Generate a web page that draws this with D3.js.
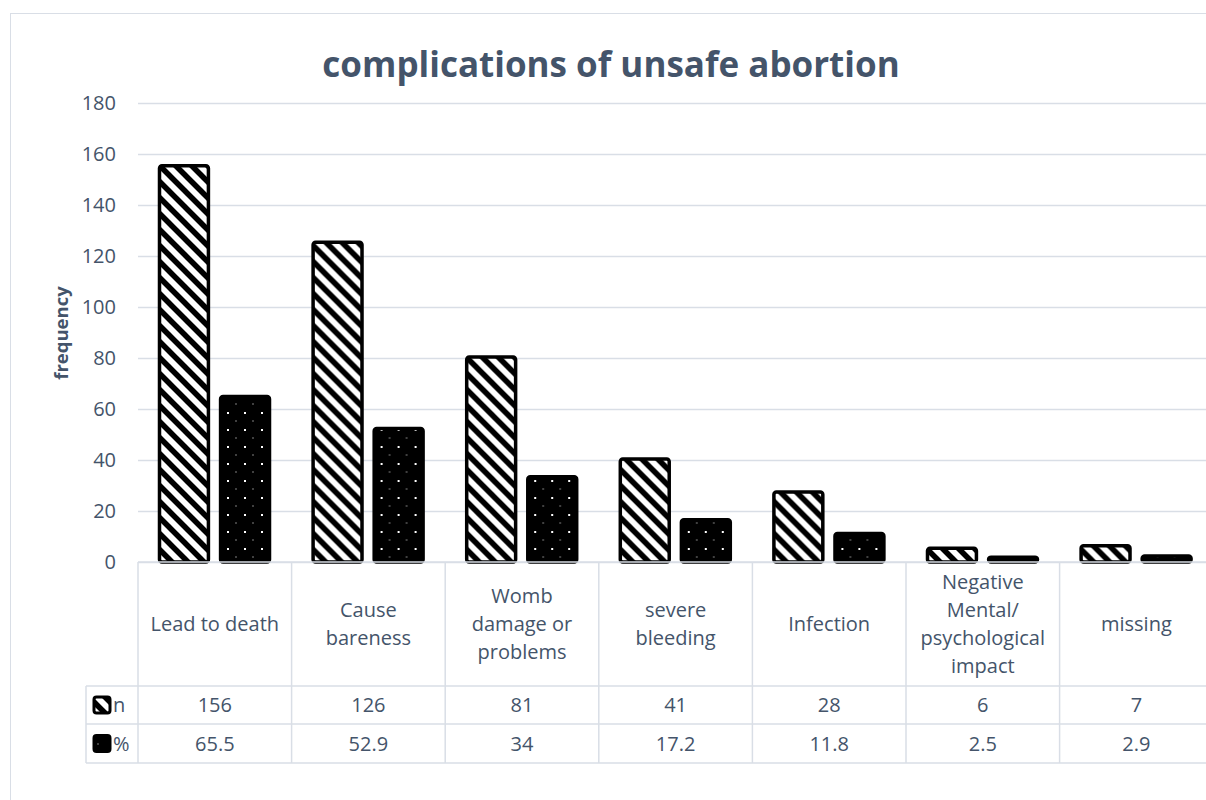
<!DOCTYPE html>
<html>
<head>
<meta charset="utf-8">
<script src="https://cdn.jsdelivr.net/npm/d3@7"></script>
<style>
  body { margin: 0; background: #fff; }
  text { font-family: "Open Sans", "Noto Sans", sans-serif; fill: #44546a; }
</style>
</head>
<body>
<div id="chart-area"></div>
<script>
// data
let categories = ["Lead to death", "Cause bareness", "Womb damage or problems",
    "severe bleeding", "Infection", "Negative Mental/ psychological impact", "missing"];
let labelLines = [["Lead to death"], ["Cause", "bareness"], ["Womb", "damage or", "problems"],
    ["severe", "bleeding"], ["Infection"], ["Negative", "Mental/", "psychological", "impact"], ["missing"]];
let nValues = [156, 126, 81, 41, 28, 6, 7];
let pctValues = [65.5, 52.9, 34, 17.2, 11.8, 2.5, 2.9];
let pctLabels = ["65.5", "52.9", "34", "17.2", "11.8", "2.5", "2.9"];
let seriesNames = ["n", "%"];
let yTicks = [0, 20, 40, 60, 80, 100, 120, 140, 160, 180];

let W = 1206, H = 800;
let gridColor = "#d9dee6";
let fontSize = "20px";
let plotLeft = 138, colW = 153.6, plotTop = 103, plotBottom = 562;
let rowCat = 686, rowN = 724, rowPct = 763, legendLeft = 86;

let rows = categories.map((c, i) => ({cat: c, lines: labelLines[i], n: nValues[i], pct: pctValues[i], pctLabel: pctLabels[i]}));

let svg = d3.select("#chart-area")
    .append("svg")
        .attr("width", W)
        .attr("height", H);

let defs = svg.append("defs");

// wide downward diagonal hatch
let hatch = defs.append("pattern")
    .attr("id", "hatch")
    .attr("patternUnits", "userSpaceOnUse")
    .attr("width", 16).attr("height", 16);
hatch.append("rect").attr("width", 16).attr("height", 16).attr("fill", "#fff");
hatch.append("path")
    .attr("d", "M0,0 L16,16 M-8,8 L8,24 M8,-8 L24,8")
    .attr("stroke", "#000").attr("stroke-width", 5.6);

// dotted black fill
let dots = defs.append("pattern")
    .attr("id", "dots")
    .attr("patternUnits", "userSpaceOnUse")
    .attr("width", 17).attr("height", 17);
dots.append("rect").attr("width", 17).attr("height", 17).attr("fill", "#000");
dots.append("rect").attr("x", 4).attr("y", 4).attr("width", 2).attr("height", 2).attr("fill", "#fff");
dots.append("rect").attr("x", 12.5).attr("y", 12.5).attr("width", 1).attr("height", 1).attr("fill", "#fff");

let fills = {"n": "url(#hatch)", "%": "url(#dots)"};

// chart frame
svg.append("rect")
    .attr("x", 10.5).attr("y", 13.5)
    .attr("width", 1230).attr("height", 820)
    .attr("fill", "none")
    .attr("stroke", gridColor);

// scales
let x = d3.scaleBand()
    .domain(categories)
    .range([plotLeft, plotLeft + colW * categories.length]);

let x1 = d3.scaleBand()
    .domain(seriesNames)
    .range([20, 133])
    .paddingInner(0.15);

let y = d3.scaleLinear()
    .domain([0, 180])
    .range([plotBottom, plotTop]);

// gridlines + y axis
let yAxisCall = d3.axisLeft(y)
    .tickValues(yTicks)
    .tickSize(-(colW * categories.length))
    .tickPadding(22);

let yAxisGroup = svg.append("g")
    .attr("class", "y-axis")
    .attr("transform", "translate(" + plotLeft + ", 0)")
    .call(yAxisCall);
yAxisGroup.select(".domain").remove();
yAxisGroup.selectAll("line").attr("stroke", gridColor).attr("stroke-width", 1.3);
yAxisGroup.selectAll("text")
    .attr("font-size", fontSize)
    .attr("fill", "#44546a")
    .style("font-family", "'Open Sans', sans-serif");

// bars
let groups = svg.selectAll(".cat")
    .data(rows)
    .enter().append("g")
        .attr("class", "cat")
        .attr("transform", d => "translate(" + x(d.cat) + ", 0)");

groups.selectAll("rect")
    .data(d => [{s: "n", v: d.n}, {s: "%", v: d.pct}])
    .enter().append("rect")
        .attr("x", d => x1(d.s) + 1.5)
        .attr("width", x1.bandwidth() - 3)
        .attr("y", d => y(d.v) + 1.5)
        .attr("height", d => Math.max(0, plotBottom - y(d.v) - 1.5))
        .attr("rx", 2.5)
        .attr("fill", d => fills[d.s])
        .attr("stroke", "#000")
        .attr("stroke-width", 3.5);

// data table lines
let tbl = svg.append("g").attr("class", "table");
let tableRight = plotLeft + colW * categories.length;
tbl.append("line").attr("x1", plotLeft).attr("x2", tableRight).attr("y1", plotBottom).attr("y2", plotBottom);
tbl.append("line").attr("x1", legendLeft).attr("x2", tableRight).attr("y1", rowCat).attr("y2", rowCat);
tbl.append("line").attr("x1", legendLeft).attr("x2", tableRight).attr("y1", rowN).attr("y2", rowN);
tbl.append("line").attr("x1", legendLeft).attr("x2", tableRight).attr("y1", rowPct).attr("y2", rowPct);
tbl.append("line").attr("x1", legendLeft).attr("x2", legendLeft).attr("y1", rowCat).attr("y2", rowPct);
tbl.selectAll(".vline")
    .data(categories)
    .enter().append("line")
        .attr("class", "vline")
        .attr("x1", d => x(d)).attr("x2", d => x(d))
        .attr("y1", plotBottom).attr("y2", rowPct);
tbl.selectAll("line").attr("stroke", gridColor).attr("stroke-width", 1.5);

// category labels
let lineH = 28;
groups.append("text")
    .attr("text-anchor", "middle")
    .attr("font-size", fontSize)
    .each(function(d) {
        let t = d3.select(this);
        let c = (plotBottom + rowCat) / 2;
        let start = c - (d.lines.length - 1) * lineH / 2;
        d.lines.forEach((l, i) => {
            t.append("tspan")
                .attr("x", x.bandwidth() / 2)
                .attr("y", start + i * lineH)
                .attr("dy", "0.35em")
                .text(l);
        });
    });

// value rows
groups.append("text")
    .attr("x", x.bandwidth() / 2)
    .attr("y", (rowCat + rowN) / 2)
    .attr("dy", "0.35em")
    .attr("text-anchor", "middle")
    .attr("font-size", fontSize)
    .text(d => d.n);

groups.append("text")
    .attr("x", x.bandwidth() / 2)
    .attr("y", (rowN + rowPct) / 2)
    .attr("dy", "0.35em")
    .attr("text-anchor", "middle")
    .attr("font-size", fontSize)
    .text(d => d.pctLabel);

// legend keys in the table
let keyRows = [{s: "n", y0: rowCat, y1: rowN}, {s: "%", y0: rowN, y1: rowPct}];
keyRows.forEach(k => {
    let cy = (k.y0 + k.y1) / 2;
    svg.append("rect")
        .attr("x", 94).attr("y", cy - 8)
        .attr("width", 16).attr("height", 16)
        .attr("rx", 2.5)
        .attr("fill", fills[k.s])
        .attr("stroke", "#000")
        .attr("stroke-width", 3);
    svg.append("text")
        .attr("x", 113).attr("y", cy)
        .attr("dy", "0.35em")
        .attr("font-size", fontSize)
        .text(k.s);
});

// title
svg.append("text")
    .attr("x", 611)
    .attr("y", 77)
    .attr("text-anchor", "middle")
    .attr("font-size", "35px")
    .attr("font-weight", "bold")
    .text("complications of unsafe abortion");

// y axis label
svg.append("text")
    .attr("transform", "translate(62, " + 333 + ") rotate(-90)")
    .attr("text-anchor", "middle")
    .attr("dy", "0.35em")
    .attr("font-size", "18.5px")
    .attr("font-weight", "bold")
    .text("frequency");
</script>
</body>
</html>
